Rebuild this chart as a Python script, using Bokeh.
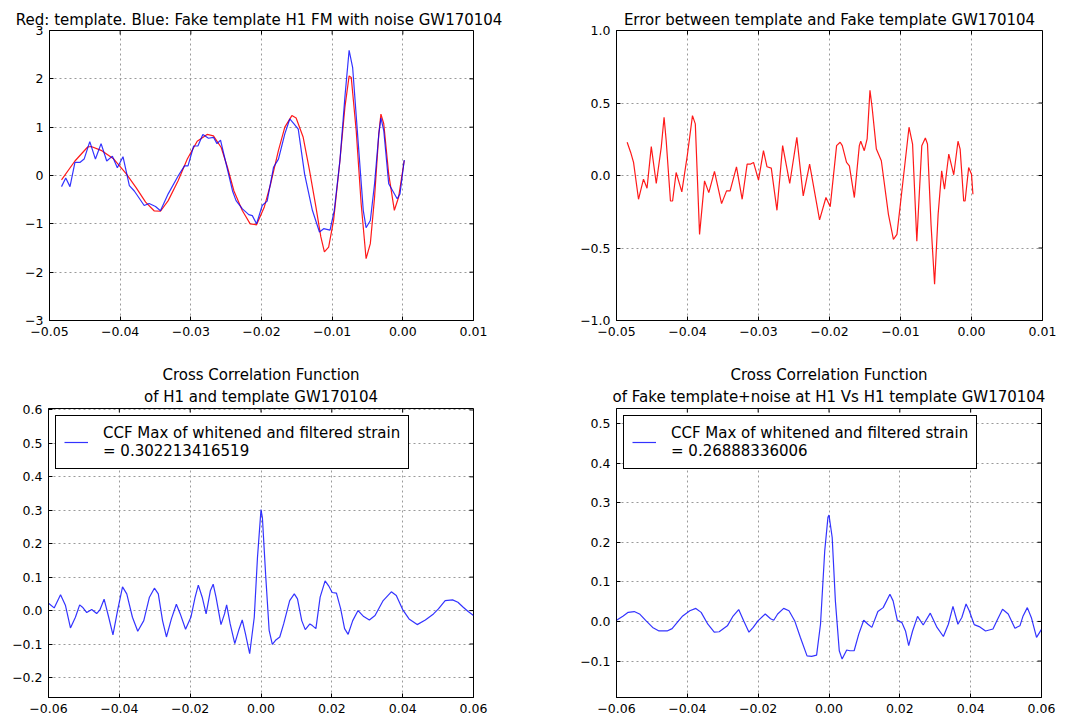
from bokeh.plotting import figure
from bokeh.layouts import row, column
from bokeh.models import (FixedTicker, Title, Legend, LegendItem,
                          Range1d, CustomJSTickFormatter)
from bokeh.embed import file_html
from bokeh.resources import INLINE

FONT = "DejaVu Sans"

# ---------------- data ----------------
# Top-left: template (red) and fake template with noise (blue)
tl_red_t = [-0.0483, -0.0464, -0.0446, -0.0441, -0.0427, -0.0409, -0.0391, -0.0377, -0.0364, -0.0352,
            -0.0343, -0.0332, -0.0318, -0.0305, -0.0291, -0.0277, -0.0268, -0.0257, -0.0248, -0.0239,
            -0.0227, -0.0216, -0.0207, -0.0196, -0.0187, -0.0176, -0.0167, -0.0157, -0.0151, -0.0141,
            -0.0132, -0.0123, -0.0116, -0.0111, -0.0105, -0.0098, -0.0089, -0.0082, -0.0076, -0.0073,
            -0.0066, -0.0059, -0.0052, -0.0046, -0.0040, -0.0034, -0.0031, -0.0027, -0.0020, -0.0012,
            -0.0006, 0.0002]
tl_red_v = [-0.09, 0.30, 0.59, 0.60, 0.52, 0.34, 0.03, -0.26, -0.55, -0.73,
            -0.74, -0.52, -0.11, 0.34, 0.71, 0.85, 0.82, 0.58, 0.16, -0.32,
            -0.73, -1.00, -1.02, -0.65, -0.17, 0.52, 1.00, 1.24, 1.19, 0.79,
            0.10, -0.65, -1.27, -1.58, -1.48, -0.93, 0.31, 1.41, 2.06, 2.03,
            0.93, -0.58, -1.72, -1.41, -0.45, 0.86, 1.27, 1.07, 0.03, -0.72,
            -0.45, 0.31]

tl_blue_t = [-0.0483, -0.0477, -0.0471, -0.0464, -0.0457, -0.0451, -0.0443, -0.0435, -0.0427, -0.0419,
             -0.0411, -0.0404, -0.0396, -0.0387, -0.0380, -0.0366, -0.0359, -0.0350, -0.0343, -0.0332,
             -0.0318, -0.0309, -0.0304, -0.0296, -0.0290, -0.0283, -0.0275, -0.0268, -0.0263, -0.0258,
             -0.0251, -0.0241, -0.0236, -0.0227, -0.0218, -0.0213, -0.0207, -0.0199, -0.0192, -0.0183,
             -0.0176, -0.0167, -0.0160, -0.0154, -0.0148, -0.0139, -0.0128, -0.0118, -0.0112, -0.0103,
             -0.0097, -0.0089, -0.0082, -0.0076, -0.0071, -0.0063, -0.0056, -0.0052, -0.0046, -0.0040,
             -0.0034, -0.0031, -0.0027, -0.0020, -0.0008, -0.0004, 0.0002]
tl_blue_v = [-0.23, -0.05, -0.23, 0.27, 0.27, 0.34, 0.70, 0.34, 0.66, 0.30,
             0.40, 0.16, 0.39, -0.21, -0.32, -0.62, -0.58, -0.64, -0.73, -0.38,
             -0.01, 0.20, 0.20, 0.61, 0.61, 0.85, 0.77, 0.79, 0.66, 0.73,
             0.30, -0.32, -0.52, -0.69, -0.81, -0.83, -1.00, -0.62, -0.53, 0.17,
             0.34, 0.86, 1.17, 1.07, 0.96, 0.03, -0.72, -1.17, -1.10, -1.13,
             -0.72, 0.31, 1.62, 2.59, 2.23, 0.65, -0.72, -1.08, -0.93, -0.17,
             0.86, 1.19, 0.93, -0.17, -0.48, -0.38, 0.32]

# Top-right: error between template and fake template
tr_t = [-0.0485, -0.0480, -0.0476, -0.0469, -0.0462, -0.0457, -0.0451, -0.0444, -0.0437, -0.0433,
        -0.0430, -0.0424, -0.0421, -0.0416, -0.0408, -0.0400, -0.0393, -0.0389, -0.0383, -0.0376,
        -0.0370, -0.0362, -0.0352, -0.0345, -0.0340, -0.0331, -0.0323, -0.0316, -0.0311, -0.0307,
        -0.0300, -0.0293, -0.0288, -0.0282, -0.0274, -0.0266, -0.0256, -0.0246, -0.0237, -0.0228,
        -0.0214, -0.0205, -0.0199, -0.0190, -0.0185, -0.0182, -0.0176, -0.0172, -0.0165, -0.0158,
        -0.0156, -0.0151, -0.0147, -0.0143, -0.0140, -0.0134, -0.0127, -0.0117, -0.0110, -0.0105,
        -0.0097, -0.0088, -0.0083, -0.0077, -0.0070, -0.0065, -0.0062, -0.0057, -0.0052, -0.0047,
        -0.0042, -0.0038, -0.0032, -0.0025, -0.0019, -0.0016, -0.0011, -0.0009, -0.0004, 0.0000,
        0.0002]
tr_v = [0.229, 0.159, 0.090, -0.164, -0.025, -0.088, 0.199, -0.055, 0.194, 0.402,
        0.240, -0.176, -0.176, 0.021, -0.113, 0.148, 0.413, 0.356, -0.406, -0.037,
        -0.118, 0.028, -0.194, -0.106, -0.106, 0.060, -0.164, 0.079, 0.079, 0.090,
        -0.032, 0.171, 0.060, 0.051, -0.240, 0.206, -0.055, 0.263, -0.141, 0.079,
        -0.306, -0.152, -0.215, 0.206, 0.229, 0.206, 0.090, 0.067, -0.152, 0.206,
        0.236, 0.171, 0.252, 0.587, 0.471, 0.182, 0.102, -0.268, -0.441, -0.406,
        -0.060, 0.333, 0.217, -0.453, 0.206, 0.259, 0.217, -0.337, -0.750, -0.268,
        0.032, -0.095, 0.148, 0.005, 0.236, 0.182, -0.176, -0.176, 0.055, 0.009,
        -0.129]

# Bottom-left: CCF of H1 and template
bl_ccf_max = 0.302213416519
bl_t = [-0.0600, -0.0584, -0.0566, -0.0552, -0.0538, -0.0524, -0.0512, -0.0504, -0.0492, -0.0478,
        -0.0464, -0.0455, -0.0443, -0.0430, -0.0418, -0.0405, -0.0391, -0.0379, -0.0363, -0.0348,
        -0.0331, -0.0315, -0.0301, -0.0290, -0.0278, -0.0267, -0.0253, -0.0239, -0.0228, -0.0213,
        -0.0198, -0.0186, -0.0177, -0.0166, -0.0155, -0.0143, -0.0135, -0.0127, -0.0113, -0.0103,
        -0.0097, -0.0087, -0.0074, -0.0063, -0.0053, -0.0044, -0.0032, -0.0019, -0.0010, 0.0000,
        0.0004, 0.0013, 0.0023, 0.0032, 0.0041, 0.0053, 0.0064, 0.0081, 0.0094, 0.0103,
        0.0115, 0.0125, 0.0138, 0.0145, 0.0155, 0.0167, 0.0181, 0.0191, 0.0201, 0.0213,
        0.0225, 0.0236, 0.0246, 0.0259, 0.0274, 0.0290, 0.0306, 0.0322, 0.0345, 0.0368,
        0.0382, 0.0400, 0.0418, 0.0441, 0.0464, 0.0487, 0.0501, 0.0520, 0.0541, 0.0556,
        0.0571, 0.0585, 0.0600]
bl_v = [0.022, 0.008, 0.047, 0.015, -0.052, -0.020, 0.017, 0.010, -0.006, 0.003,
        -0.009, 0.002, 0.034, -0.020, -0.073, 0.000, 0.071, 0.050, -0.020, -0.062,
        -0.030, 0.040, 0.067, 0.050, -0.030, -0.079, -0.025, 0.019, -0.010, -0.056,
        -0.020, 0.040, 0.076, 0.040, -0.010, 0.059, 0.079, 0.040, -0.042, -0.010,
        0.017, -0.040, -0.099, -0.059, -0.028, -0.069, -0.129, -0.020, 0.158, 0.302,
        0.277, 0.109, -0.059, -0.101, -0.089, -0.079, -0.040, 0.030, 0.050, 0.035,
        -0.030, -0.057, -0.040, -0.045, -0.054, 0.040, 0.089, 0.074, 0.054, 0.052,
        0.005, -0.054, -0.071, -0.030, 0.000, -0.018, -0.028, -0.015, 0.030, 0.056,
        0.045, 0.003, -0.025, -0.042, -0.028, -0.010, 0.005, 0.030, 0.032, 0.025,
        0.010, -0.003, -0.015]

# Bottom-right: CCF of fake template+noise vs template
br_ccf_max = 0.26888336006
br_t = [-0.0600, -0.0581, -0.0567, -0.0550, -0.0535, -0.0517, -0.0498, -0.0480, -0.0457, -0.0443,
        -0.0429, -0.0413, -0.0393, -0.0376, -0.0361, -0.0342, -0.0324, -0.0310, -0.0287, -0.0272,
        -0.0255, -0.0241, -0.0226, -0.0214, -0.0200, -0.0180, -0.0165, -0.0156, -0.0145, -0.0128,
        -0.0113, -0.0097, -0.0081, -0.0062, -0.0049, -0.0035, -0.0024, -0.0012, -0.0003, 0.0000,
        0.0009, 0.0018, 0.0029, 0.0037, 0.0050, 0.0059, 0.0071, 0.0084, 0.0098, 0.0110,
        0.0121, 0.0138, 0.0153, 0.0172, 0.0181, 0.0193, 0.0206, 0.0216, 0.0225, 0.0236,
        0.0250, 0.0266, 0.0286, 0.0305, 0.0323, 0.0337, 0.0350, 0.0364, 0.0375, 0.0387,
        0.0396, 0.0410, 0.0424, 0.0442, 0.0463, 0.0474, 0.0490, 0.0506, 0.0525, 0.0539,
        0.0548, 0.0560, 0.0572, 0.0586, 0.0600]
br_v = [0.003, 0.014, 0.023, 0.025, 0.019, 0.002, -0.015, -0.024, -0.024, -0.018,
        -0.003, 0.014, 0.027, 0.033, 0.023, -0.007, -0.027, -0.026, -0.011, 0.012,
        0.030, 0.002, -0.027, -0.015, 0.002, 0.019, 0.007, 0.003, 0.019, 0.033,
        0.027, 0.002, -0.040, -0.087, -0.088, -0.085, -0.007, 0.179, 0.263, 0.2689,
        0.212, 0.052, -0.074, -0.095, -0.072, -0.074, -0.074, -0.032, 0.003, -0.007,
        -0.015, 0.025, 0.035, 0.069, 0.052, 0.003, -0.003, -0.024, -0.061, -0.024,
        0.013, -0.009, 0.021, -0.015, -0.038, -0.007, 0.038, -0.007, 0.010, 0.044,
        0.027, -0.008, -0.013, -0.024, -0.019, 0.002, 0.031, 0.019, -0.017, -0.011,
        0.014, 0.035, 0.008, -0.040, -0.020]

# ---------------- ticks ----------------
x_top_ticks = [-0.05, -0.04, -0.03, -0.02, -0.01, 0.0, 0.01]
x_top_labels = ["\u22120.05", "\u22120.04", "\u22120.03", "\u22120.02", "\u22120.01", "0.00", "0.01"]
y_tl_ticks = [-3, -2, -1, 0, 1, 2, 3]
y_tl_labels = ["\u22123", "\u22122", "\u22121", "0", "1", "2", "3"]
y_tr_ticks = [-1.0, -0.5, 0.0, 0.5, 1.0]
y_tr_labels = ["\u22121.0", "\u22120.5", "0.0", "0.5", "1.0"]
x_bot_ticks = [-0.06, -0.04, -0.02, 0.0, 0.02, 0.04, 0.06]
x_bot_labels = ["\u22120.06", "\u22120.04", "\u22120.02", "0.00", "0.02", "0.04", "0.06"]
y_bl_ticks = [-0.2, -0.1, 0.0, 0.1, 0.2, 0.3, 0.4, 0.5, 0.6]
y_bl_labels = ["\u22120.2", "\u22120.1", "0.0", "0.1", "0.2", "0.3", "0.4", "0.5", "0.6"]
y_br_ticks = [-0.1, 0.0, 0.1, 0.2, 0.3, 0.4, 0.5]
y_br_labels = ["\u22120.1", "0.0", "0.1", "0.2", "0.3", "0.4", "0.5"]

tl_title = "Red: template. Blue: Fake template H1  FM with noise GW170104"
tr_title = "Error between template and Fake template GW170104"
bl_title = ["Cross Correlation Function", "of H1 and template GW170104"]
br_title = ["Cross Correlation Function", "of Fake template+noise at H1 Vs H1 template GW170104"]
legend_text = "CCF Max of whitened and filtered strain"

TICK_PX = 4


def fmt(tv, tl):
    return CustomJSTickFormatter(args=dict(tv=tv, tl=tl), code="""
        for (let i = 0; i < tv.length; i++) {
            if (Math.abs(tv[i] - tick) < 1e-9) { return tl[i]; }
        }
        return "";
    """)


def make(bl, br, bt, bb, xr, yr, xt, xl, yt, yl):
    p = figure(width=536, height=360, x_range=Range1d(*xr), y_range=Range1d(*yr),
               min_border_left=bl, min_border_right=br, min_border_top=bt, min_border_bottom=bb,
               toolbar_location=None, output_backend="svg", title=None)
    p.background_fill_color = "white"
    p.border_fill_color = "white"
    p.outline_line_color = "black"
    p.outline_line_width = 1
    p.outline_line_alpha = 1.0

    for ax, t, l in ((p.xaxis[0], xt, xl), (p.yaxis[0], yt, yl)):
        ax.ticker = FixedTicker(ticks=t)
        ax.formatter = fmt(t, l)
        ax.major_label_text_font = FONT
        ax.major_label_text_font_size = "12.5px"
        ax.major_label_text_color = "black"
        ax.major_tick_in = TICK_PX
        ax.major_tick_out = 0
        ax.major_tick_line_color = "black"
        ax.minor_tick_line_color = None
        ax.axis_line_color = "black"
        ax.major_label_standoff = 6

    p.xgrid.ticker = FixedTicker(ticks=xt)
    p.ygrid.ticker = FixedTicker(ticks=yt)
    for g in (p.xgrid, p.ygrid):
        g.grid_line_color = "#9a9a9a"
        g.grid_line_dash = "2 3"
        g.grid_line_width = 1
        g.grid_line_alpha = 1.0

    # inward tick marks on the top and right frame edges (matplotlib classic style)
    fw = 536 - bl - br
    fh = 360 - bt - bb
    dy = (yr[1] - yr[0]) * TICK_PX / fh
    dx = (xr[1] - xr[0]) * TICK_PX / fw
    p.segment(x0=xt, y0=[yr[1]] * len(xt), x1=xt, y1=[yr[1] - dy] * len(xt),
              line_color="black", line_width=1)
    p.segment(x0=[xr[1]] * len(yt), y0=yt, x1=[xr[1] - dx] * len(yt), y1=yt,
              line_color="black", line_width=1)
    return p


def add_title(p, text, standoff):
    p.add_layout(Title(text=text, align="center", text_font=FONT, text_font_size="15px",
                       text_font_style="normal", text_color="black", standoff=standoff), "above")


def add_legend(p, r, value):
    item = LegendItem(label=legend_text + "\n= " + str(value), renderers=[r])
    lg = Legend(items=[item], location="top_left", margin=7, padding=8,
                glyph_width=24, label_standoff=15,
                label_text_font=FONT, label_text_font_size="15px", label_text_color="black",
                border_line_color="black", border_line_width=1, border_line_alpha=1.0,
                background_fill_color="white", background_fill_alpha=1.0)
    p.add_layout(lg)


LW = 1.2

# Top-left
p1 = make(49, 63, 30, 40, (-0.05, 0.01), (-3, 3), x_top_ticks, x_top_labels, y_tl_ticks, y_tl_labels)
p1.line(tl_red_t, tl_red_v, line_color="#ff0000", line_width=LW, line_alpha=0.9)
p1.line(tl_blue_t, tl_blue_v, line_color="#0000ff", line_width=LW, line_alpha=0.8)
add_title(p1, tl_title, 4)

# Top-right
p2 = make(80, 30, 30, 40, (-0.05, 0.01), (-1, 1), x_top_ticks, x_top_labels, y_tr_ticks, y_tr_labels)
p2.line(tr_t, tr_v, line_color="#ff0000", line_width=LW, line_alpha=0.9)
add_title(p2, tr_title, 4)

# Bottom-left
p3 = make(48, 63, 48, 23, (-0.06, 0.06), (-0.26, 0.6044), x_bot_ticks, x_bot_labels, y_bl_ticks, y_bl_labels)
r3 = p3.line(bl_t, bl_v, line_color="#0000ff", line_width=LW, line_alpha=0.8)
add_title(p3, bl_title[1], 5)
add_title(p3, bl_title[0], 0)
add_legend(p3, r3, bl_ccf_max)

# Bottom-right
p4 = make(80, 31, 48, 23, (-0.06, 0.06), (-0.192, 0.5378), x_bot_ticks, x_bot_labels, y_br_ticks, y_br_labels)
r4 = p4.line(br_t, br_v, line_color="#0000ff", line_width=LW, line_alpha=0.8)
add_title(p4, br_title[1], 5)
add_title(p4, br_title[0], 0)
add_legend(p4, r4, br_ccf_max)

layout = column(row(p1, p2), row(p3, p4))
open("out.html", "w").write(file_html(layout, INLINE))
